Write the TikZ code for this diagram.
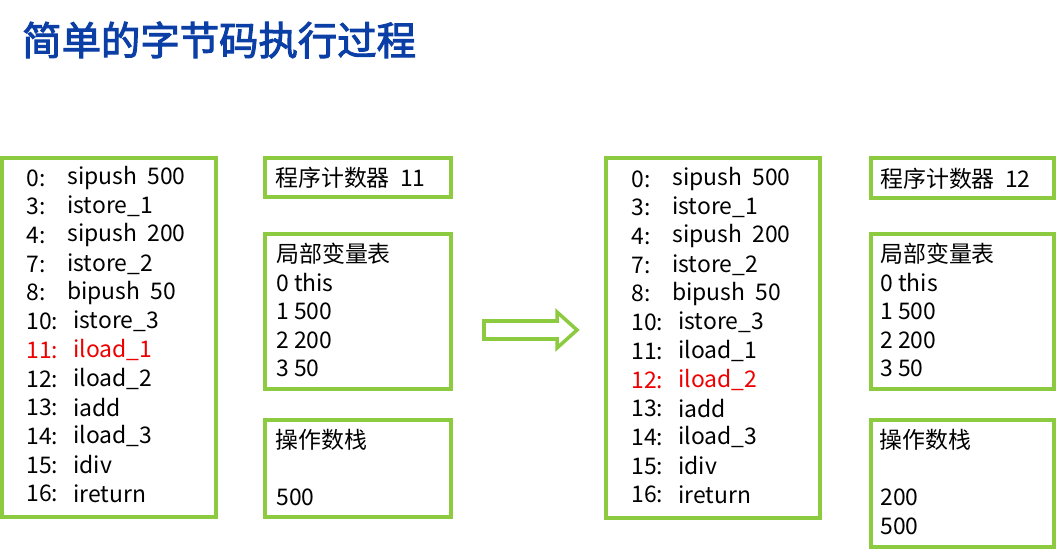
\documentclass[tikz,border=0pt]{standalone}
\usepackage{fontspec}
\setmainfont{Noto Sans CJK SC}
\newfontfamily\titlefont[AutoFakeBold=2.5]{Noto Sans CJK SC}
\definecolor{gbox}{HTML}{8CCB3F}
\definecolor{tblue}{HTML}{0B3FA6}
\definecolor{hred}{HTML}{EE0000}
\tikzset{
  px/.style={x=0.025cm,y=-0.025cm},
  box/.style={draw=gbox,line width=2.5pt},
  txt/.style={anchor=west,inner sep=0pt,font=\fontsize{16.3}{18}\selectfont},
}
\begin{document}
\begin{tikzpicture}[px]
\useasboundingbox (0,0) rectangle (1057,556);
\node[anchor=west,inner sep=0pt,text=tblue,font=\titlefont\bfseries\fontsize{28}{30}\selectfont] (title) at (22,40) {简单的字节码执行过程};
% left
\draw[box] (2,158) rectangle (216,517);
\draw[box] (265,158) rectangle (451,197);
\draw[box] (265,234) rectangle (451,389);
\draw[box] (265,420) rectangle (451,517);
\foreach \n/\i/\c [count=\k from 0] in {0:/sipush~~500/black,3:/istore\_1/black,4:/sipush~~200/black,7:/istore\_2/black,8:/bipush~~50/black,10:/istore\_3/black,11:/iload\_1/hred,12:/iload\_2/black,13:/iadd/black,14:/iload\_3/black,15:/idiv/black,16:/ireturn/black}{
  \pgfmathsetmacro{\yy}{178+28.7*\k}
  \pgfmathsetmacro{\xx}{\k<5 ? 67 : 73}
  \node[txt,text=\c] (ln\k) at (26,\yy) {\n};
  \node[txt,text=\c] (li\k) at (\xx,\yy) {\i};
}
\node[txt] (pc1) at (275,178) {程序计数器~~11};
\node[txt] (lv1) at (276,254) {局部变量表};
\node[txt] (lva) at (276,283) {0~this};
\node[txt] (lvb) at (276,311) {1~500};
\node[txt] (lvc) at (276,340) {2~200};
\node[txt] (lvd) at (276,368) {3~50};
\node[txt] (os1) at (275,440) {操作数栈};
\node[txt] (osa) at (276,497) {500};
% arrow
\draw[draw=gbox,line width=2.5pt,line join=miter] (484,321) -- (557,321) -- (557,312) -- (577,330) -- (557,348) -- (557,339) -- (484,339) -- cycle;
% right
\draw[box] (606,158) rectangle (820,518);
\draw[box] (871,158) rectangle (1054,198);
\draw[box] (871,234) rectangle (1054,389);
\draw[box] (871,420) rectangle (1054,547);
\foreach \n/\i/\c [count=\k from 0] in {0:/sipush~~500/black,3:/istore\_1/black,4:/sipush~~200/black,7:/istore\_2/black,8:/bipush~~50/black,10:/istore\_3/black,11:/iload\_1/black,12:/iload\_2/hred,13:/iadd/black,14:/iload\_3/black,15:/idiv/black,16:/ireturn/black}{
  \pgfmathsetmacro{\yy}{179+28.7*\k}
  \pgfmathsetmacro{\xx}{\k<5 ? 672 : 678}
  \node[txt,text=\c] (rn\k) at (631,\yy) {\n};
  \node[txt,text=\c] (ri\k) at (\xx,\yy) {\i};
}
\node[txt] (pc2) at (880,179) {程序计数器~~12};
\node[txt] (lv2) at (880,254) {局部变量表};
\node[txt] (lve) at (880,283) {0~this};
\node[txt] (lvf) at (880,311) {1~500};
\node[txt] (lvg) at (880,340) {2~200};
\node[txt] (lvh) at (880,368) {3~50};
\node[txt] (os2) at (879,440) {操作数栈};
\node[txt] (osb) at (880,497) {200};
\node[txt] (osc) at (880,526) {500};
\end{tikzpicture}
\end{document}
